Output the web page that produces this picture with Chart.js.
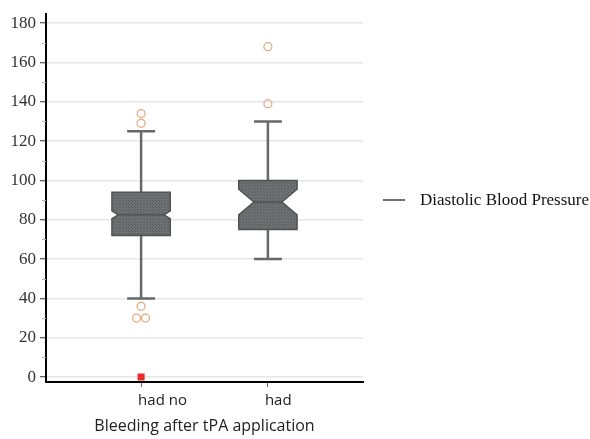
<!DOCTYPE html>
<html>
<head>
<meta charset="utf-8">
<script src="https://cdn.jsdelivr.net/npm/chart.js@4/dist/chart.umd.min.js"></script>
<style>
  html, body { margin: 0; padding: 0; background: #fff; }
  #wrap { width: 590px; height: 439px; }
</style>
</head>
<body>
<div id="wrap"><canvas id="boxChart" width="590" height="439"></canvas></div>
<script>
// box plot summary per category
const categories = ["had no", "had"];
const whiskerLow = [40, 60];
const q1 = [72, 75];
const notchLow = [80.5, 82.5];
const median = [82.5, 89];
const notchHigh = [84.5, 95.5];
const q3 = [94, 100];
const whiskerHigh = [125, 130];
const outliers = [[134, 129, 36, 30, 30], [168, 139]];
const extremes = [[0], []];
const yTicks = [0, 20, 40, 60, 80, 100, 120, 140, 160, 180];
const seriesName = "Diastolic Blood Pressure";

// outliers with the same value sit side by side
function spreadPoints(lists) {
  const pts = [];
  lists.forEach((vals, i) => {
    const seen = {};
    vals.forEach(v => { seen[v] = (seen[v] || 0) + 1; });
    const used = {};
    vals.forEach(v => {
      const n = seen[v];
      const k = used[v] || 0;
      used[v] = k + 1;
      const off = n > 1 ? (k - (n - 1) / 2) * 0.07 : 0;
      pts.push({ x: i + off, y: v });
    });
  });
  return pts;
}

// dotted fill like the reference
const pat = document.createElement("canvas");
pat.width = 3; pat.height = 3;
const pctx = pat.getContext("2d");
pctx.fillStyle = "#6e7072";
pctx.fillRect(0, 0, 3, 3);
pctx.fillStyle = "#5a5c5e";
pctx.fillRect(0, 0, 1, 1);
pctx.fillRect(2, 2, 1, 1);

const boxWidth = 0.46;
const capWidth = 0.22;

const boxPlugin = {
  id: "boxes",
  beforeDatasetsDraw(chart) {
    const { ctx, scales: { x, y } } = chart;
    const fill = ctx.createPattern(pat, "repeat");
    ctx.save();
    categories.forEach((c, i) => {
      const cx = x.getPixelForValue(i);
      const half = (x.getPixelForValue(i + boxWidth / 2) - x.getPixelForValue(i - boxWidth / 2)) / 2;
      const capHalf = (x.getPixelForValue(i + capWidth / 2) - x.getPixelForValue(i - capWidth / 2)) / 2;
      // whiskers
      ctx.strokeStyle = "#666869";
      ctx.lineWidth = 2.5;
      ctx.beginPath();
      ctx.moveTo(cx, y.getPixelForValue(whiskerHigh[i]));
      ctx.lineTo(cx, y.getPixelForValue(q3[i]));
      ctx.moveTo(cx, y.getPixelForValue(q1[i]));
      ctx.lineTo(cx, y.getPixelForValue(whiskerLow[i]));
      ctx.moveTo(cx - capHalf, y.getPixelForValue(whiskerHigh[i]));
      ctx.lineTo(cx + capHalf, y.getPixelForValue(whiskerHigh[i]));
      ctx.moveTo(cx - capHalf, y.getPixelForValue(whiskerLow[i]));
      ctx.lineTo(cx + capHalf, y.getPixelForValue(whiskerLow[i]));
      ctx.stroke();

      // notched box
      const yTop = y.getPixelForValue(q3[i]);
      const yBot = y.getPixelForValue(q1[i]);
      const yNh = y.getPixelForValue(notchHigh[i]);
      const yNl = y.getPixelForValue(notchLow[i]);
      const yMed = y.getPixelForValue(median[i]);
      const indent = Math.min(0.26 * half * 2, 1.6 * (yNl - yNh) / 2);
      ctx.beginPath();
      ctx.moveTo(cx - half, yTop);
      ctx.lineTo(cx + half, yTop);
      ctx.lineTo(cx + half, yNh);
      ctx.lineTo(cx + half - indent, yMed);
      ctx.lineTo(cx + half, yNl);
      ctx.lineTo(cx + half, yBot);
      ctx.lineTo(cx - half, yBot);
      ctx.lineTo(cx - half, yNl);
      ctx.lineTo(cx - half + indent, yMed);
      ctx.lineTo(cx - half, yNh);
      ctx.closePath();
      ctx.fillStyle = fill;
      ctx.fill();
      ctx.strokeStyle = "#505254";
      ctx.lineWidth = 1.5;
      ctx.stroke();
      // median line
      ctx.beginPath();
      ctx.moveTo(cx - half + indent, yMed);
      ctx.lineTo(cx + half - indent, yMed);
      ctx.stroke();
    });
    ctx.restore();
  },
  afterDraw(chart) {
    const { ctx, scales: { y }, chartArea } = chart;
    ctx.save();
    // minor ticks between the labelled ones
    ctx.strokeStyle = "#b0b0b0";
    ctx.lineWidth = 1;
    for (let k = 0; k < yTicks.length - 1; k++) {
      const py = Math.round(y.getPixelForValue((yTicks[k] + yTicks[k + 1]) / 2)) + 0.5;
      ctx.beginPath();
      ctx.moveTo(chartArea.left - 4, py);
      ctx.lineTo(chartArea.left, py);
      ctx.stroke();
    }
    // legend
    ctx.strokeStyle = "#6e6e6e";
    ctx.lineWidth = 2;
    ctx.beginPath();
    ctx.moveTo(383, 200);
    ctx.lineTo(405, 200);
    ctx.stroke();
    ctx.fillStyle = "#111";
    ctx.font = '17px "Liberation Serif"';
    ctx.textBaseline = "middle";
    ctx.textAlign = "left";
    ctx.fillText(seriesName, 420, 201);
    ctx.restore();
  }
};

new Chart(document.getElementById("boxChart").getContext("2d"), {
  type: "scatter",
  data: {
    datasets: [
      {
        label: seriesName,
        data: spreadPoints(outliers),
        pointStyle: "circle",
        pointRadius: 4,
        pointHoverRadius: 4,
        borderColor: "#e2a87c",
        backgroundColor: "rgba(0,0,0,0)",
        borderWidth: 1.2
      },
      {
        label: "extreme",
        data: spreadPoints(extremes),
        pointStyle: "rect",
        pointRadius: 5,
        borderColor: "#e52b2b",
        backgroundColor: "#e52b2b",
        borderWidth: 0
      }
    ]
  },
  options: {
    responsive: false,
    animation: false,
    layout: { padding: { top: 10, left: 0, right: 227, bottom: 3 } },
    plugins: {
      legend: { display: false },
      tooltip: { enabled: false }
    },
    scales: {
      x: {
        type: "linear",
        min: -0.75,
        max: 1.75,
        afterBuildTicks: s => { s.ticks = categories.map((c, i) => ({ value: i })); },
        afterFit: s => { s.height = 54; },
        ticks: {
          callback: v => categories[v],
          align: "start",
          labelOffset: -3,
          padding: 5,
          color: "#222",
          font: { family: "Open Sans", size: 15 }
        },
        grid: { drawOnChartArea: false, drawTicks: true, tickLength: 5, tickColor: "#666" },
        border: { display: true, color: "#000", width: 2 },
        title: {
          display: true,
          text: "Bleeding after tPA application",
          color: "#222",
          font: { family: "Open Sans", size: 16 },
          padding: 0
        }
      },
      y: {
        min: -2.5,
        max: 184.5,
        afterBuildTicks: s => { s.ticks = yTicks.map(v => ({ value: v })); },
        afterFit: s => { s.width = 46; },
        ticks: {
          color: "#333",
          padding: 4,
          font: { family: "Liberation Serif", size: 17 }
        },
        grid: { color: "#e6e6e6", lineWidth: 1.5, tickLength: 6, tickColor: "#333", tickWidth: 1 },
        border: { display: true, color: "#000", width: 2 }
      }
    }
  },
  plugins: [boxPlugin]
});
</script>
</body>
</html>
